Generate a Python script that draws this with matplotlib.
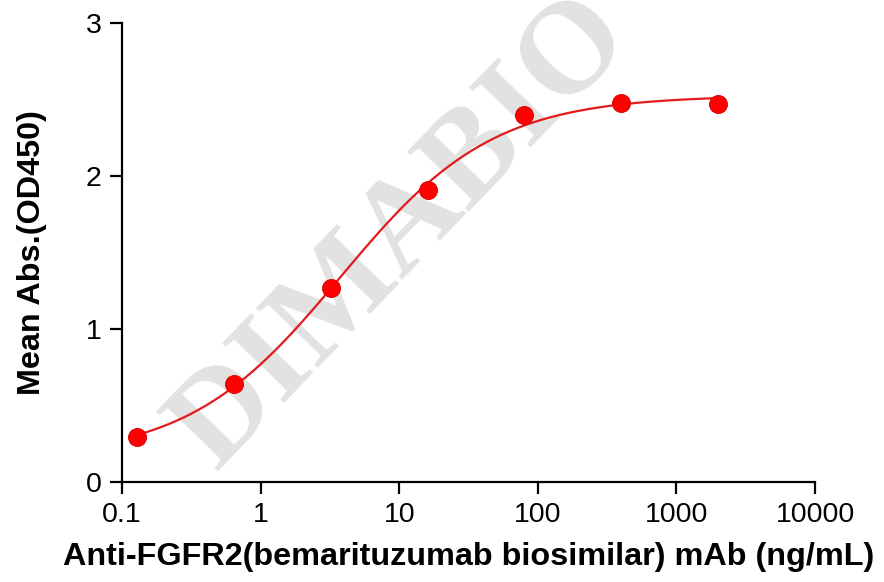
import numpy as np
import matplotlib
matplotlib.use("Agg")
import matplotlib.pyplot as plt

# 5-fold dilution series (ng/mL) and mean OD450
conc = [0.128, 0.64, 3.2, 16, 80, 400, 2000]
od450 = [0.294, 0.64, 1.268, 1.908, 2.399, 2.477, 2.47]

x_ticks = [0.1, 1, 10, 100, 1000, 10000]
x_tick_labels = ["0.1", "1", "10", "100", "1000", "10000"]
y_ticks = [0, 1, 2, 3]


def four_pl(x, p):
    bottom, top, log_ec50, hill = p
    return bottom + (top - bottom) / (1 + (10 ** log_ec50 / x) ** hill)


def fit_four_pl(x, y, p0, n_iter=200):
    # small Levenberg-Marquardt loop, no scipy needed
    p = np.array(p0, dtype=float)
    lam = 1e-2
    for _ in range(n_iter):
        r = y - four_pl(x, p)
        J = np.zeros((len(x), len(p)))
        for i in range(len(p)):
            dp = np.zeros_like(p)
            dp[i] = 1e-6 * max(1.0, abs(p[i]))
            J[:, i] = (four_pl(x, p + dp) - four_pl(x, p)) / dp[i]
        A = J.T @ J
        g = J.T @ r
        step = np.linalg.solve(A + lam * np.diag(np.diag(A)), g)
        p_new = p + step
        if np.sum((y - four_pl(x, p_new)) ** 2) < np.sum(r ** 2):
            p = p_new
            lam *= 0.5
        else:
            lam *= 4
    return p


xs = np.array(conc)
ys = np.array(od450)
params = fit_four_pl(xs, ys, [0.1, 2.5, np.log10(5), 1.0])
x_fit = np.logspace(np.log10(xs.min()), np.log10(xs.max()), 300)
y_fit = four_pl(x_fit, params)

plt.rcParams["font.family"] = ["Liberation Sans", "DejaVu Sans"]

fig = plt.figure(figsize=(8.84, 5.82), dpi=100)
ax = fig.add_axes([0.138, 0.172, 0.784, 0.788])
ax.set_zorder(2)

# watermark, behind the axes content
fig.text(0.455, 0.6, "DIMABIO", rotation=46, fontsize=94, fontweight="bold",
         family="Liberation Serif", color="#e2e2e2", ha="center", va="center",
         zorder=0)

ax.plot(x_fit, y_fit, color="#e31a1c", lw=1.6, zorder=3)
ax.plot(xs, ys, "o", color="#ff0000", markersize=13, markeredgecolor="#d40000",
        markeredgewidth=0.6, zorder=4, clip_on=False)

ax.set_xscale("log")
ax.set_xlim(0.1, 10000)
ax.set_ylim(0, 3)
ax.set_xticks(x_ticks)
ax.set_xticklabels(x_tick_labels)
ax.set_yticks(y_ticks)
ax.minorticks_off()
ax.patch.set_alpha(0)

for s in ["top", "right"]:
    ax.spines[s].set_visible(False)
for s in ["left", "bottom"]:
    ax.spines[s].set_linewidth(1.6)
ax.tick_params(axis="both", direction="out", length=8.5, width=1.6,
               labelsize=20.5, pad=6)

ax.set_xlabel("Anti-FGFR2(bemarituzumab biosimilar) mAb (ng/mL)",
              fontsize=23.3, fontweight="bold", labelpad=10)
ax.set_ylabel("Mean Abs.(OD450)", fontsize=23.3, fontweight="bold", labelpad=28)

fig.savefig("out.png", dpi=100)
